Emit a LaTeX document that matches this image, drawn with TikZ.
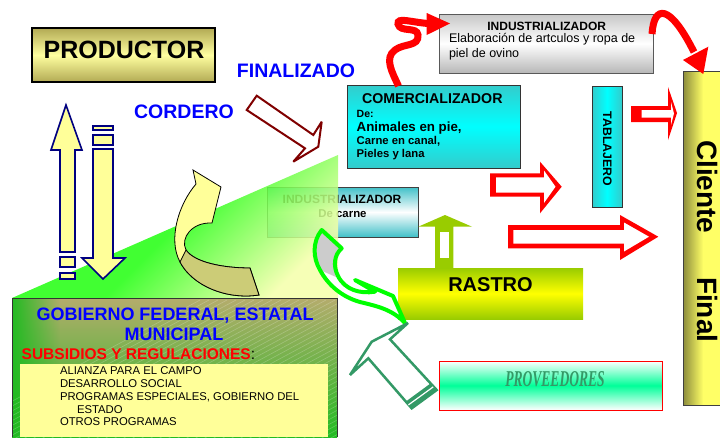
\documentclass[tikz,border=0pt]{standalone}
\usepackage{fontspec}
\setmainfont{Liberation Sans}
\newfontfamily\provfont{Liberation Serif}
\usetikzlibrary{fadings}
\definecolor{prodolive}{RGB}{178,170,84}
\definecolor{prodlight}{RGB}{255,255,160}
\definecolor{tealb}{RGB}{51,204,204}
\definecolor{tealc}{RGB}{64,192,200}
\definecolor{cyanc}{RGB}{0,255,255}
\definecolor{navyc}{RGB}{0,0,128}
\definecolor{paley}{RGB}{255,255,153}
\definecolor{khakic}{RGB}{204,204,119}
\definecolor{darkredc}{RGB}{128,0,0}
\definecolor{grassg}{RGB}{34,255,17}
\definecolor{paletri}{RGB}{245,255,170}
\definecolor{seag}{RGB}{51,153,102}
\definecolor{limeg}{RGB}{153,204,0}
\definecolor{springg}{RGB}{0,255,153}
\definecolor{cliolive}{RGB}{140,140,60}
\definecolor{cliyel}{RGB}{255,255,102}
\definecolor{gobkhaki}{RGB}{180,172,108}
\definecolor{gobgreen}{RGB}{34,187,34}
\definecolor{bluet}{RGB}{0,0,255}
\definecolor{brightg}{RGB}{0,255,0}
\tikzset{
  txt/.style={inner sep=0pt, outer sep=0pt},
  bfs/.style={font=\bfseries\fontsize{#1}{#1}\selectfont},
  rfs/.style={font=\fontsize{#1}{#1}\selectfont},
  navyarrow/.style={draw=navyc, line width=1.6pt, fill=paley},
  boxnode/.style={inner sep=0pt, outer sep=0pt},
  redwave/.style={draw=red, line width=7pt},
}
\begin{document}
\begin{tikzpicture}[x=1pt,y=-1pt]
\useasboundingbox (0,0) rectangle (720,437);
\fill[white] (0,0) rectangle (720,437);

% small industrializador (de carne), under the green triangle
\node[boxnode, draw=black!75, line width=0.8pt, top color=tealc, bottom color=tealc, middle color=white, minimum width=151pt, minimum height=50pt] (indcarne) at (342.5,212) {};
\node[txt, bfs=12, anchor=base] (indcarnet) at (342,203.3) {INDUSTRIALIZADOR};
\node[txt, bfs=11.4, anchor=base] (indcarnes) at (342.5,217.3) {De carne};

% green triangle
\shade[top color=grassg, bottom color=paletri, middle color=grassg, shading angle=45, opacity=0.86] (12,298) -- (338,155) -- (338,298) -- cycle;

% gobierno box
\shade[top color=gobkhaki, bottom color=gobgreen] (12,298) rectangle (337,437);
\fill[gobgreen, path fading=east] (12,298) rectangle (60,437);
\begin{scope}
\clip (12,298) rectangle (337,437);
\foreach \i in {0,...,45} { \draw[white, opacity=0.22, line width=0.6pt] ({\i*9-60},440) -- ++(260,-140); }
\end{scope}
\draw[black!80, line width=1pt] (12,437) -- (12,298) -- (337,298) -- (337,437);
\node[txt, bfs=18, text=bluet, anchor=base] (gob1) at (175,320) {GOBIERNO FEDERAL, ESTATAL};
\node[txt, bfs=18, text=bluet, anchor=base] (gob2) at (174,340.7) {MUNICIPAL};
\node[txt, bfs=15.5, anchor=base west] (subs) at (21.7,359.3) {\textcolor{red}{SUBSIDIOS Y REGULACIONES}{\mdseries:}};
\fill[paley] (20,364) rectangle (328,437);
\node[txt, rfs=11.3, anchor=base west] (p1) at (60,374) {ALIANZA PARA EL CAMPO};
\node[txt, rfs=11.3, anchor=base west] (p2) at (60,387) {DESARROLLO SOCIAL};
\node[txt, rfs=11.3, anchor=base west] (p3) at (60,400) {PROGRAMAS ESPECIALES, GOBIERNO DEL};
\node[txt, rfs=11.3, anchor=base west] (p4) at (77,413) {ESTADO};
\node[txt, rfs=11.3, anchor=base west] (p5) at (60,425.5) {OTROS PROGRAMAS};

% navy up / down arrows
\draw[navyarrow] (66,105) -- (82,150) -- (75,150) -- (75,252) -- (60,252) -- (60,150) -- (51,150) -- cycle;
\draw[navyarrow] (60,257) rectangle (75,267);
\draw[navyarrow] (60,273) rectangle (75,279);
\draw[navyarrow] (93,126) rectangle (113,130);
\draw[navyarrow] (93,135) rectangle (113,145);
\draw[navyarrow] (93,149) -- (113,149) -- (113,258) -- (125,258) -- (103,279) -- (82,258) -- (93,258) -- cycle;

% curved yellow arrow
\draw[black, line width=0.8pt, fill=paley] (193,170) -- (221,187) -- (212,223) .. controls (192,222) and (180,238) .. (186,250) .. controls (195,263) and (225,268) .. (250,268) -- (259,295) .. controls (225,300) and (192,285) .. (180,262) .. controls (168,240) and (178,205) .. (196,184) -- cycle;
\draw[black, line width=0.8pt, fill=khakic] (180,262) .. controls (192,285) and (225,300) .. (259,295) -- (250,268) .. controls (225,268) and (195,263) .. (186,250) -- cycle;

% dark red arrow (cordero finalizado)
\draw[darkredc, line width=2pt, fill=white, miter limit=4] (256.7,95.7) -- (313.3,135) -- (321.7,121.7) -- (318.3,146.7) -- (293.3,161.7) -- (305,148.3) -- (246.7,110) -- cycle;

% productor
\node[boxnode, draw=black, line width=1.5pt, top color=prodolive, bottom color=prodolive, middle color=prodlight, minimum width=183pt, minimum height=54pt] (prod) at (123.5,55) {};
\node[txt, bfs=25, anchor=base] (prodt) at (124,58.3) {PRODUCTOR};
\node[txt, bfs=19.5, text=bluet, anchor=base] (fin) at (296,77.3) {FINALIZADO};
\node[txt, bfs=19.5, text=bluet, anchor=base] (cord) at (184,118.3) {CORDERO};

% comercializador
\node[boxnode, draw=black!80, line width=1pt, top color=tealb, bottom color=tealb, middle color=cyanc, minimum width=173pt, minimum height=83pt] (com) at (433.5,126.5) {};
\node[txt, bfs=14.2, anchor=base] (comt) at (432.3,103.3) {COMERCIALIZADOR};
\node[txt, bfs=10.5, anchor=base west] (com1) at (356.7,117.3) {De:};
\node[txt, bfs=13.3, anchor=base west] (com2) at (356.7,131.7) {Animales en pie,};
\node[txt, bfs=11.3, anchor=base west] (com3) at (356.7,144.3) {Carne en canal,};
\node[txt, bfs=11.3, anchor=base west] (com4) at (356.7,157.7) {Pieles y lana};

% top industrializador
\node[boxnode, draw=black!65, line width=1pt, top color=black!22, bottom color=black!28, middle color=white, minimum width=214pt, minimum height=59pt] (indtop) at (546,43.5) {};
\node[txt, bfs=12, anchor=base] (indtopt) at (546.7,30) {INDUSTRIALIZADOR};
\node[txt, rfs=12.5, anchor=base west] (indtop1) at (449,42.7) {Elaboración de artculos y ropa de};
\node[txt, rfs=12.5, anchor=base west] (indtop2) at (449,57.3) {piel de ovino};

% red wavy arrow comercializador -> industrializador
\draw[redwave] (398.5,86) .. controls (392,72) and (384,58) .. (395,50) .. controls (404,43) and (419,47) .. (418,35) .. controls (417,26) and (400,33) .. (398,24) .. controls (397,17) and (410,22) .. (428,23.5);
\fill[red] (426.7,13) -- (450,23.5) -- (426.7,35) -- cycle;

% tablajero
\node[boxnode, draw=black!80, line width=1pt, left color=tealb, right color=tealb, middle color=cyanc, minimum width=30pt, minimum height=121pt] (tab) at (607,146.5) {};
\node[txt, bfs=12.3, rotate=-90, anchor=base west] (tabt) at (603,111.7) {TABLAJERO};

% cliente final
\shade[left color=cliolive, right color=cliyel] (683,71) rectangle (703,405);
\fill[cliyel] (703,71) rectangle (743,405);
\node[boxnode, draw=black!75, line width=1pt, minimum width=60pt, minimum height=334pt] (cli) at (713,238) {};
\node[txt, bfs=28, rotate=-90, anchor=base west] (cli1) at (697,140) {Cliente};
\node[txt, bfs=28, rotate=-90, anchor=base west] (cli2) at (697,277) {Final};

% red curve industrializador -> cliente
\draw[redwave] (652,34) .. controls (654,4) and (670,4) .. (694,52);
\fill[red] (683,60) -- (708.3,46.7) -- (703.3,74) -- cycle;

% red hollow arrows
\fill[red] (631,106) -- (668,106) -- (668,87) -- (677,113) -- (668,140) -- (668,122) -- (631,122) -- cycle;
\fill[white] (641.7,110) -- (671,110) -- (671,102) -- (674,113.5) -- (671,125) -- (671,117.5) -- (641.7,117.5) -- cycle;
\fill[red] (490,173.3) -- (540,173.3) -- (540,161.7) -- (561.7,186.7) -- (540,213.3) -- (540,196.7) -- (490,196.7) -- cycle;
\fill[white] (496,177.3) -- (544,177.3) -- (544,170.5) -- (555.5,186.7) -- (544,203) -- (544,192.7) -- (496,192.7) -- cycle;
\fill[red] (508,225) -- (620,225) -- (620,215) -- (658.3,236.7) -- (620,260) -- (620,248.3) -- (508,248.3) -- cycle;
\fill[white] (513.3,230) -- (624,230) -- (624,222.5) -- (649,236.7) -- (624,251.5) -- (624,243.5) -- (513.3,243.5) -- cycle;

% rastro
\node[boxnode, top color=limeg, bottom color=limeg, middle color=yellow, minimum width=185pt, minimum height=51pt] (rastro) at (490.5,293.5) {};
\node[txt, bfs=20, anchor=base] (rastrot) at (490.5,291.7) {RASTRO};

% olive arrow rastro -> industrializador de carne
\fill[limeg] (445,215) -- (472,226.7) -- (453.3,226.7) -- (453.3,268) -- (435,268) -- (435,226.7) -- (418.3,226.7) -- cycle;
\fill[white] (440,231.7) rectangle (449,258.3);

% green curved arrow
\fill[white] (321.7,230) .. controls (312,242) and (313,258) .. (320,270) .. controls (328,285) and (342,297) .. (360,302) .. controls (376,306) and (392,309) .. (405,323) -- (393,296) -- (355,280) -- (375,291.7) .. controls (360,294) and (345,290) .. (338,276) .. controls (333,266) and (334,255) .. (341.7,248.3) -- cycle;
\fill[black!20] (321.7,230) .. controls (312,242) and (313,258) .. (320,270) -- (336,277) .. controls (333,266) and (334,255) .. (341.7,248.3) -- cycle;
\draw[brightg, line width=4pt, line join=round] (321.7,230) .. controls (312,242) and (313,258) .. (320,270) .. controls (328,285) and (342,297) .. (360,302) .. controls (376,306) and (392,309) .. (405,323) -- (393,296) -- (355,280) -- (375,291.7) .. controls (360,294) and (345,290) .. (338,276) .. controls (333,266) and (334,255) .. (341.7,248.3) -- cycle;

% dark green arrow proveedores -> rastro
\draw[seag, line width=2.5pt, fill=white, miter limit=4] (408,323) -- (390,339.3) -- (436.7,390) -- (411.7,408.3) -- (368.3,358.3) -- (350,375) -- (371.7,341.7) -- cycle;
\fill[seag] (436.7,390) -- (411.7,408.3) -- (405.6,401.7) -- (430.6,383.4) -- cycle;
\draw[white, line width=1.2pt] (433.2,386.9) -- (408.4,404.9);

% proveedores
\node[boxnode, draw=red, line width=1pt, top color=white, bottom color=white, middle color=springg, minimum width=223pt, minimum height=49pt] (prov) at (550.5,385.5) {};
\node[txt, text=seag, font=\provfont\bfseries\itshape\fontsize{22.6}{22.6}\selectfont, anchor=base] (provt) at (555,386.7) {\scalebox{0.6}[1]{PROVEEDORES}};
\end{tikzpicture}
\end{document}
